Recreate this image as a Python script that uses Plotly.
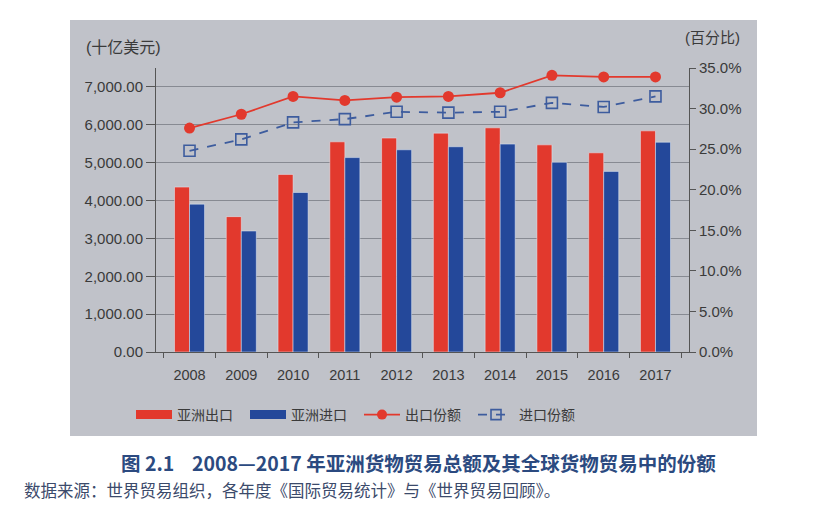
import plotly.graph_objects as go

years = ["2008", "2009", "2010", "2011", "2012", "2013", "2014", "2015", "2016", "2017"]
asia_exports = [4355, 3575, 4690, 5550, 5650, 5780, 5920, 5470, 5260, 5840]
asia_imports = [3905, 3195, 4212, 5134, 5340, 5420, 5490, 5010, 4770, 5540]
export_share = [27.6, 29.3, 31.5, 31.0, 31.4, 31.5, 31.95, 34.1, 33.9, 33.9]
import_share = [24.8, 26.2, 28.3, 28.7, 29.6, 29.5, 29.6, 30.7, 30.2, 31.5]

left_ticks = [0, 1000, 2000, 3000, 4000, 5000, 6000, 7000]
right_ticks = [0, 5, 10, 15, 20, 25, 30, 35]
right_labels = ["0.0%", "5.0%", "10.0%", "15.0%", "20.0%", "25.0%", "30.0%", "35.0%"]

RED = "#e2392d"
BLUE = "#24489a"
LBLUE = "#3d5c9e"
TXT = "#3a3a3a"
FONT = "Liberation Sans, Noto Sans CJK SC, sans-serif"

# page is drawn with an 8px body margin; figure coords = page coords - 8
W, H = 826, 504
OFF = 8
L, R, T, B = 156 - OFF, 834 - 689, 68 - OFF, 512 - 352
PW, PH = 689 - 156, 352 - 68

fig = go.Figure()
fig.add_trace(go.Bar(x=years, y=asia_exports, marker_color=RED, name="亚洲出口",
                     showlegend=False))
fig.add_trace(go.Bar(x=years, y=asia_imports, marker_color=BLUE, name="亚洲进口",
                     showlegend=False))
fig.add_trace(go.Scatter(x=years, y=export_share, yaxis="y2", mode="lines+markers",
                         line=dict(color=RED, width=1.8),
                         marker=dict(color=RED, size=11, symbol="circle"),
                         showlegend=False, name="出口份额"))
fig.add_trace(go.Scatter(x=years, y=import_share, yaxis="y2", mode="lines+markers",
                         line=dict(color=LBLUE, width=1.8, dash="dash"),
                         marker=dict(color="rgba(0,0,0,0)", size=11, symbol="square",
                                     line=dict(color=LBLUE, width=1.6)),
                         showlegend=False, name="进口份额"))

# legend proxies
fig.add_trace(go.Scatter(x=[None], y=[None], mode="lines", line=dict(color=RED, width=9),
                         name="亚洲出口"))
fig.add_trace(go.Scatter(x=[None], y=[None], mode="lines", line=dict(color=BLUE, width=9),
                         name="亚洲进口"))
fig.add_trace(go.Scatter(x=[None], y=[None], mode="lines+markers",
                         line=dict(color=RED, width=1.8),
                         marker=dict(color=RED, size=10), name="出口份额"))
fig.add_trace(go.Scatter(x=[None], y=[None], mode="lines+markers",
                         line=dict(color=LBLUE, width=1.8, dash="dash"),
                         marker=dict(color="rgba(0,0,0,0)", size=10, symbol="square",
                                     line=dict(color=LBLUE, width=1.6)),
                         name="进口份额"))

fig.update_layout(
    width=W, height=H,
    margin=dict(l=L, r=R, t=T, b=B, autoexpand=False),
    paper_bgcolor="white",
    plot_bgcolor="#dcdee2",
    font=dict(family=FONT, size=14, color=TXT),
    barmode="group",
    bargap=0.42,
    bargroupgap=0,
    xaxis=dict(type="category", showline=True, linecolor="#555", linewidth=1,
               ticks="outside", tickson="boundaries", ticklen=5, tickcolor="#555",
               ticklabelstandoff=10,
               showgrid=False, tickfont=dict(size=14.5, color=TXT)),
    yaxis=dict(range=[0, 7500], tickvals=left_ticks, tickformat=",.2f",
               showline=True, linecolor="#555", linewidth=1,
               ticks="outside", ticklen=9, tickcolor="#555",
               showgrid=True, gridcolor="#878a92", gridwidth=1, zeroline=False,
               tickfont=dict(size=15, color=TXT)),
    yaxis2=dict(range=[0, 35], tickvals=right_ticks, ticktext=right_labels,
                overlaying="y", side="right", showline=True, linecolor="#555", linewidth=1,
                ticks="outside", ticklen=6, tickcolor="#555", showgrid=False, zeroline=False,
                tickfont=dict(size=15, color=TXT)),
    legend=dict(orientation="h", xref="container", yref="container",
                x=(131 - OFF) / W, y=1 - (399 - OFF) / H, xanchor="left", yanchor="top",
                bgcolor="rgba(0,0,0,0)", font=dict(size=14, color=TXT),
                entrywidth=63, itemwidth=36, traceorder="normal"),
    showlegend=True,
)

fig.add_shape(type="rect", xref="paper", yref="paper", layer="below",
              x0=(70 - 156) / PW, x1=(757 - 156) / PW, y0=-(436 - 352) / PH, y1=1 + (68 - 20) / PH,
              fillcolor="#c0c2c9", line=dict(width=0))

fig.add_annotation(text="(十亿美元)", xref="paper", yref="paper",
                   x=(84 - 156) / PW, y=1 + (68 - 47) / PH, xanchor="left", yanchor="middle",
                   showarrow=False, font=dict(size=16, color=TXT))
fig.add_annotation(text="(百分比)", xref="paper", yref="paper",
                   x=(683 - 156) / PW, y=1 + (68 - 38) / PH, xanchor="left", yanchor="middle",
                   showarrow=False, font=dict(size=15, color=TXT))
fig.add_annotation(text="<b>图 2.1    2008—2017 年亚洲货物贸易总额及其全球货物贸易中的份额</b>",
                   xref="paper", yref="paper",
                   x=(418 - 156) / PW, y=-(462 - 352) / PH, xanchor="center", yanchor="middle",
                   showarrow=False, font=dict(size=19.5, color="#2b4a80",
                                              family="Noto Sans CJK SC, sans-serif"))
fig.add_annotation(text="数据来源：世界贸易组织，各年度《国际贸易统计》与《世界贸易回顾》。",
                   xref="paper", yref="paper",
                   x=(22 - 156) / PW, y=-(490 - 352) / PH, xanchor="left", yanchor="middle",
                   showarrow=False, font=dict(size=16.5, color="#3b4a6b",
                                              family="Noto Sans CJK SC, sans-serif"))

fig.write_html("out.html")
